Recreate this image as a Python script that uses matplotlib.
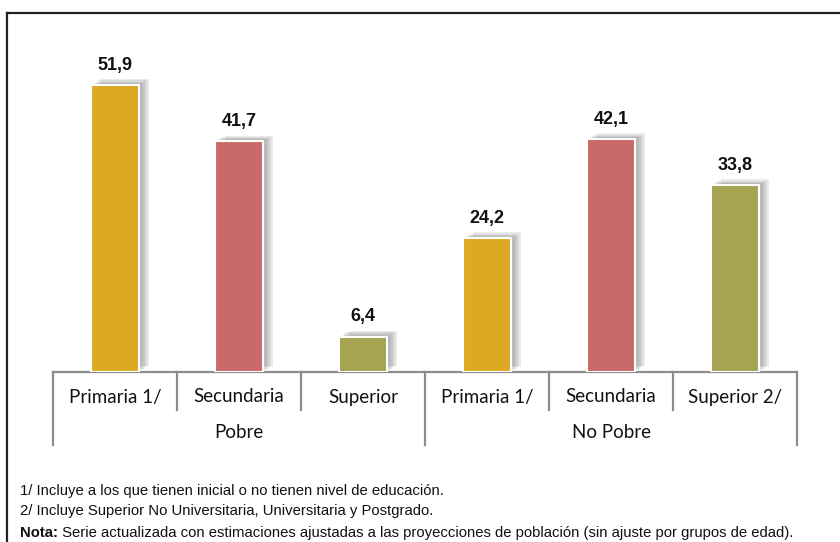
import matplotlib.pyplot as plt
import matplotlib.patheffects as pe
from matplotlib import font_manager

categories = ["Primaria 1/", "Secundaria", "Superior", "Primaria 1/", "Secundaria", "Superior 2/"]
groups = ["Pobre", "No Pobre"]
values = [51.9, 41.7, 6.4, 24.2, 42.1, 33.8]
labels = ["51,9", "41,7", "6,4", "24,2", "42,1", "33,8"]
colors = ["#DDA922", "#C96A69", "#A6A352", "#DDA922", "#C96A69", "#A6A352"]

notes = [
    "1/ Incluye a los que tienen inicial o no tienen nivel de educación.",
    "2/ Incluye Superior No Universitaria, Universitaria y Postgrado.",
]
nota_head = "Nota:"
nota_text = " Serie actualizada con estimaciones ajustadas a las proyecciones de población (sin ajuste por grupos de edad)."

names = {f.name for f in font_manager.fontManager.ttflist}
narrow = "Liberation Sans Narrow" if "Liberation Sans Narrow" in names else "Liberation Sans"

W, H = 840, 542
fig = plt.figure(figsize=(W / 100, H / 100), dpi=100)

# outer frame (left and top edges visible)
fig.add_artist(plt.Line2D([7 / W, 7 / W], [0, 1 - 13 / H], color="#222222", lw=1.6))
fig.add_artist(plt.Line2D([7 / W, 1], [1 - 13 / H, 1 - 13 / H], color="#222222", lw=1.6))

ax_top, ax_bot = 13, 372
ax = fig.add_axes([53 / W, (H - ax_bot) / H, 744 / W, (ax_bot - ax_top) / H])
ax.set_xlim(-0.5, 5.5)
ax.set_ylim(0, (ax_bot - ax_top) / 5.53)
ax.axis("off")

x = list(range(len(values)))
bars = ax.bar(x, values, width=0.39, color=colors, edgecolor="white", linewidth=1.5, zorder=3)
# soft shadow: a few stacked offsets
shadow = [pe.SimplePatchShadow(offset=(o, o * 0.6), shadow_rgbFace="#606060", alpha=0.13) for o in (7, 5.5, 4, 2.5)]
for b in bars:
    b.set_path_effects(shadow + [pe.Normal()])

for xi, v, lab in zip(x, values, labels):
    ax.annotate(lab, (xi, v), xytext=(0, 8), textcoords="offset points", ha="center", va="bottom",
                fontsize=13, fontweight="bold", family="Liberation Sans", color="#111111")

# category axis
tr = ax.get_xaxis_transform()
hpx = ax_bot - ax_top
axc = "#8c8c8c"
ax.plot([-0.5, 5.5], [0, 0], color=axc, lw=1.6, transform=tr, clip_on=False)
for s in [-0.5, 0.5, 1.5, 2.5, 3.5, 4.5, 5.5]:
    low = -73 / hpx if s in (-0.5, 2.5, 5.5) else -38 / hpx
    ax.plot([s, s], [0, low], color=axc, lw=1.6, transform=tr, clip_on=False)

for xi, c in zip(x, categories):
    ax.text(xi, -25 / hpx, c, transform=tr, ha="center", va="center", fontsize=13.5, family="Lato", color="#111111")
for gi, g in enumerate(groups):
    ax.text(1 + 3 * gi, -61 / hpx, g, transform=tr, ha="center", va="center", fontsize=13.5, family="Lato", color="#111111")

# footnotes
fs = 10.7
fig.text(20 / W, 1 - 491 / H, notes[0], fontsize=fs, family=narrow, va="center", color="#111111")
fig.text(20 / W, 1 - 511 / H, notes[1], fontsize=fs, family=narrow, va="center", color="#111111")
t = fig.text(20 / W, 1 - 533 / H, nota_head, fontsize=fs, family=narrow, fontweight="bold", va="center", color="#111111")
fig.canvas.draw()
bb = t.get_window_extent()
fig.text(bb.x1 / W, 1 - 533 / H, nota_text, fontsize=fs, family=narrow, va="center", color="#111111")

fig.savefig("out.png", dpi=100)
